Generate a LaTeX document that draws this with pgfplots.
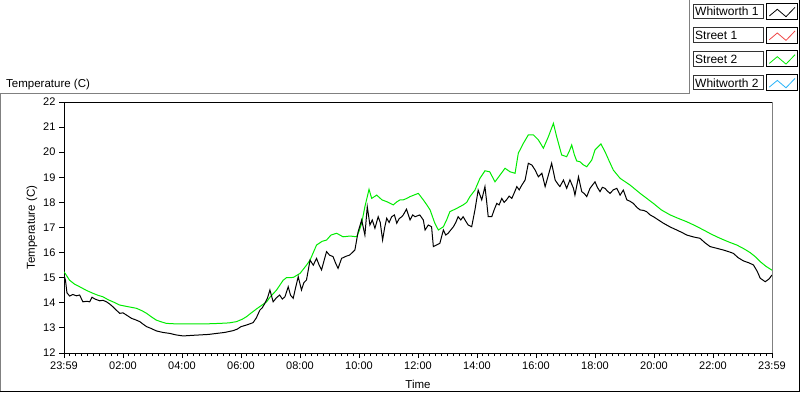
\documentclass[border=0pt]{standalone}
\usepackage{fontspec}
\setmainfont{Liberation Sans}
\usepackage{pgfplots}
\pgfplotsset{compat=1.18}
\definecolor{grn}{RGB}{0,235,0}
\definecolor{lred}{RGB}{240,70,70}
\definecolor{lcyan}{RGB}{40,180,250}
\definecolor{framegray}{RGB}{128,128,128}
\begin{document}
\begin{tikzpicture}[x=1pt,y=1pt]
\path[use as bounding box] (0,0) rectangle (800,392);
% outer frame
\draw[framegray, line width=1pt] (0.5,0) -- (0.5,299) -- (689,299) -- (689,392);
\draw[black, line width=1pt] (0,0.5) -- (799.5,0.5) -- (799.5,392);
\node[anchor=base west, inner sep=0pt, font=\fontsize{11.5}{13}\selectfont] at (6,305) {Temperature (C)};
% legend
\foreach \i/\name/\col in {0/Whitworth 1/black, 1/Street 1/lred, 2/Street 2/grn, 3/Whitworth 2/lcyan}{
  \pgfmathsetmacro\t{392-4-23.7*\i}
  \draw[black!80, line width=0.8pt, fill=white] (693,\t) rectangle (763,\t-14.5);
  \node[anchor=base west, inner sep=0pt, font=\fontsize{12}{13}\selectfont] at (695,\t-12) {\name};
  \draw[black, line width=0.8pt, fill=white] (766,\t+0.7) rectangle (797,\t-15.3);
  \draw[\col, line width=0.8pt] (769.3,\t-12) -- (777.3,\t-5.3) -- (786,\t-12.7) -- (795,\t-3.3);
}
\begin{axis}[
  at={(64pt,39pt)}, anchor=south west, scale only axis,
  width=708pt, height=251pt,
  xmin=0, xmax=24, ymin=12, ymax=22,
  axis line style={black, line width=1pt},
  xtick={0,2,...,24},
  xticklabels={23:59,02:00,04:00,06:00,08:00,10:00,12:00,14:00,16:00,18:00,20:00,22:00,23:59},
  minor x tick num=9,
  ytick={12,13,...,22},
  tick align=outside,
  major tick length=5pt, minor tick length=3pt,
  tick style={black, line width=1pt},
  xtick pos=bottom, ytick pos=left,
  ticklabel style={font=\fontsize{11}{13}\selectfont},
  /pgf/number format/assume math mode=true,
  xlabel={Time}, ylabel={Temperature (C)},
  xlabel style={at={(axis description cs:0.5,-0.1235)}, anchor=center, font=\fontsize{11.5}{13}\selectfont},
  ylabel style={at={(axis description cs:-0.0452,0.5)}, anchor=center, font=\fontsize{11.5}{13}\selectfont},
  clip=true,
]
\addplot[grn, line width=1pt] coordinates {
(0,15.24)(0.19,14.9)(0.35,14.75)(0.53,14.64)(0.75,14.5)(0.98,14.38)(1.15,14.3)(1.32,14.24)(1.5,14.12)(1.66,14.04)(1.89,13.91)(2.15,13.85)(2.46,13.78)(2.65,13.68)(2.80,13.58)(2.95,13.45)(3.13,13.31)(3.30,13.24)(3.47,13.18)(3.8,13.16)(4.38,13.16)(4.8,13.16)(5.28,13.18)(5.6,13.2)(5.85,13.25)(6.05,13.35)(6.19,13.45)(6.35,13.6)(6.53,13.76)(6.70,13.9)(6.87,14.04)(6.98,14.22)(7.2,14.5)(7.43,14.9)(7.54,15.0)(7.77,15.01)(8.0,15.17)(8.22,15.5)(8.34,15.7)(8.45,16.0)(8.56,16.3)(8.75,16.45)(8.90,16.5)(9.05,16.7)(9.24,16.77)(9.46,16.63)(9.7,16.66)(9.92,16.63)(10.0,16.85)(10.09,17.17)(10.20,17.83)(10.34,18.52)(10.43,18.16)(10.60,18.29)(10.78,18.1)(10.94,18.03)(11.16,17.9)(11.28,18.02)(11.39,18.1)(11.5,18.1)(11.62,18.16)(11.73,18.23)(11.88,18.3)(12.01,18.36)(12.18,18.1)(12.30,17.9)(12.41,17.7)(12.57,17.17)(12.69,16.9)(12.86,17.03)(12.97,17.3)(13.08,17.63)(13.31,17.76)(13.53,17.9)(13.65,18.0)(13.76,18.23)(13.93,18.49)(14.10,18.96)(14.27,19.26)(14.43,19.22)(14.61,18.82)(14.78,19.09)(14.95,19.36)(15.12,19.22)(15.29,19.16)(15.40,19.96)(15.57,20.35)(15.74,20.69)(15.91,20.69)(16.08,20.49)(16.25,20.16)(16.42,20.62)(16.59,21.15)(16.70,20.62)(16.87,19.89)(17.04,19.82)(17.15,20.1)(17.21,20.29)(17.30,19.9)(17.38,19.65)(17.49,19.62)(17.60,19.5)(17.72,19.42)(17.89,19.69)(18.0,20.09)(18.20,20.33)(18.34,20.02)(18.48,19.65)(18.62,19.29)(18.85,18.96)(19.19,18.69)(19.53,18.36)(19.98,17.96)(20.25,17.7)(20.55,17.5)(20.85,17.35)(21.11,17.23)(21.4,17.07)(21.68,16.9)(21.95,16.73)(22.24,16.57)(22.52,16.43)(22.81,16.3)(23.05,16.15)(23.26,16.0)(23.45,15.82)(23.60,15.64)(23.8,15.45)(24,15.3)
};
\addplot[black, line width=1pt] coordinates {
(0,15.1)(0.05,14.9)(0.1,14.4)(0.19,14.27)(0.3,14.33)(0.42,14.28)(0.53,14.31)(0.64,14.04)(0.78,14.06)(0.87,14.04)(0.95,14.22)(1.05,14.15)(1.21,14.08)(1.32,14.1)(1.44,14.04)(1.55,13.95)(1.66,13.84)(1.78,13.7)(1.89,13.58)(2.0,13.6)(2.12,13.51)(2.29,13.38)(2.43,13.32)(2.57,13.25)(2.68,13.15)(2.80,13.05)(2.95,12.98)(3.13,12.88)(3.35,12.82)(3.59,12.78)(3.8,12.72)(4.04,12.68)(4.3,12.7)(4.60,12.72)(4.9,12.74)(5.17,12.78)(5.45,12.82)(5.73,12.89)(5.87,12.95)(6.0,13.05)(6.2,13.12)(6.41,13.21)(6.52,13.4)(6.64,13.71)(6.72,13.8)(6.81,13.98)(6.9,14.2)(6.98,14.51)(7.09,14.04)(7.2,14.2)(7.31,14.31)(7.4,14.15)(7.49,14.24)(7.60,14.64)(7.68,14.3)(7.77,14.18)(7.85,14.6)(7.94,15.04)(8.05,14.51)(8.13,14.8)(8.22,14.91)(8.28,15.3)(8.34,15.7)(8.45,15.5)(8.56,15.77)(8.65,15.5)(8.73,15.31)(8.82,15.7)(8.90,16.04)(9.0,15.9)(9.12,15.84)(9.2,15.6)(9.29,15.37)(9.41,15.77)(9.55,15.85)(9.68,15.9)(9.86,16.1)(9.97,16.83)(10.09,17.3)(10.20,16.7)(10.28,17.83)(10.37,17.1)(10.45,17.3)(10.54,16.97)(10.65,17.43)(10.72,17.2)(10.80,16.5)(10.87,17.0)(10.94,17.37)(11.02,17.2)(11.11,17.43)(11.2,17.5)(11.28,17.17)(11.36,17.35)(11.45,17.43)(11.5,17.5)(11.61,17.73)(11.73,17.3)(11.82,17.5)(11.90,17.43)(12.06,17.5)(12.18,17.3)(12.24,16.9)(12.35,17.1)(12.46,17.03)(12.52,16.24)(12.62,16.3)(12.74,16.37)(12.86,16.9)(12.94,16.7)(13.02,16.77)(13.11,16.9)(13.20,17.03)(13.28,17.2)(13.36,17.43)(13.45,17.3)(13.53,17.43)(13.62,17.25)(13.70,17.1)(13.82,17.03)(13.93,17.7)(14.04,18.49)(14.16,18.1)(14.27,18.63)(14.33,18.0)(14.38,17.43)(14.50,17.43)(14.58,17.7)(14.67,17.96)(14.75,17.9)(14.84,18.16)(14.92,18.0)(15.0,18.1)(15.09,18.25)(15.18,18.16)(15.27,18.4)(15.35,18.63)(15.43,18.5)(15.52,18.69)(15.63,18.89)(15.74,19.56)(15.86,19.49)(15.97,19.29)(16.08,19.02)(16.20,19.16)(16.31,18.63)(16.42,19.09)(16.53,19.56)(16.65,18.89)(16.73,18.75)(16.81,18.63)(16.93,18.89)(17.04,18.56)(17.15,18.9)(17.27,18.56)(17.32,18.29)(17.44,19.02)(17.55,18.43)(17.64,18.35)(17.72,18.23)(17.83,18.56)(17.92,18.7)(18.0,18.82)(18.08,18.6)(18.17,18.43)(18.25,18.6)(18.34,18.56)(18.42,18.45)(18.51,18.36)(18.62,18.5)(18.74,18.56)(18.85,18.29)(18.96,18.49)(19.08,18.1)(19.18,18.05)(19.30,17.96)(19.42,17.8)(19.53,17.7)(19.65,17.68)(19.75,17.63)(19.87,17.5)(19.98,17.43)(20.15,17.3)(20.32,17.17)(20.55,17.02)(20.77,16.9)(20.95,16.8)(21.11,16.7)(21.35,16.62)(21.56,16.57)(21.72,16.4)(21.90,16.24)(22.1,16.18)(22.36,16.1)(22.55,16.03)(22.69,15.97)(22.85,15.8)(23.03,15.67)(23.2,15.6)(23.37,15.51)(23.5,15.25)(23.60,14.98)(23.77,14.84)(23.9,14.95)(24,15.11)
};
\end{axis}
\draw[framegray, line width=1pt] (772,39) -- (772,290);
\end{tikzpicture}
\end{document}
